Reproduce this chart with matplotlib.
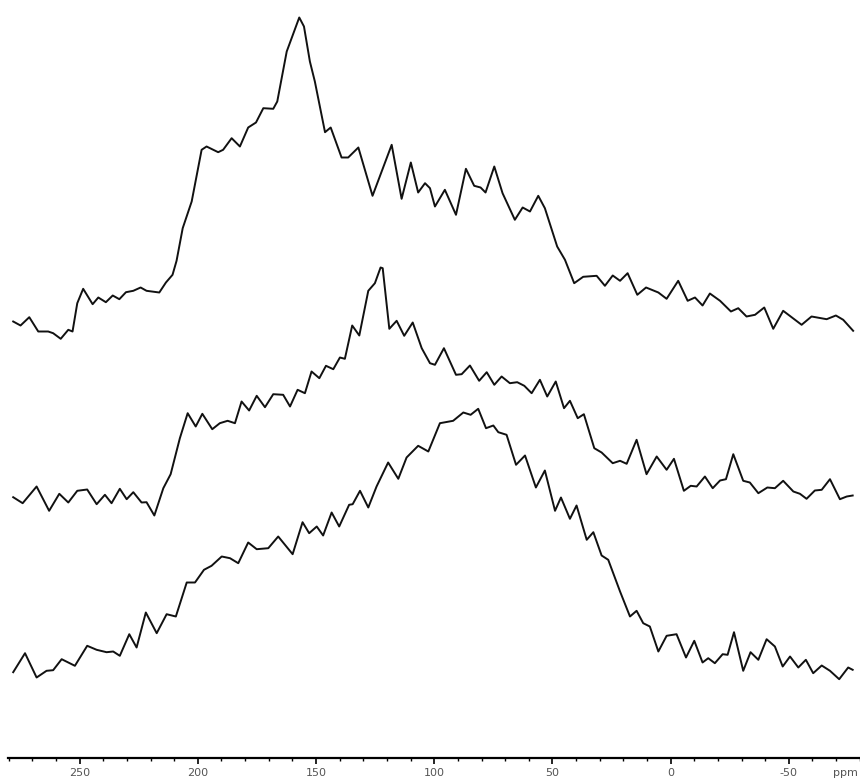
import matplotlib
matplotlib.use('Agg')
import matplotlib.pyplot as plt
from matplotlib.ticker import MultipleLocator

# chemical shift (ppm) and intensity
top_ppm = [278.1, 275.0, 271.3, 267.5, 263.3, 261.2, 258.0, 254.8, 253.0, 251.0,
           248.5, 244.5, 242.1, 238.9, 236.0, 233.2, 230.4, 227.3, 224.2, 221.7,
           216.3, 213.5, 210.7, 209.0, 206.4, 202.6, 198.4, 196.3, 191.4, 189.3,
           185.7, 182.2, 178.7, 175.4, 172.3, 168.1, 166.4, 162.4, 157.1, 155.1,
           152.6, 150.5, 146.2, 143.8, 139.2, 136.4, 132.1, 126.1, 118.0, 113.8,
           109.9, 106.8, 103.9, 101.8, 99.7, 95.5, 90.8, 86.6, 83.1, 80.4,
           78.3, 74.6, 71.1, 65.9, 62.6, 59.5, 56.0, 53.2, 48.0, 44.7,
           40.8, 37.0, 31.3, 27.8, 24.5, 21.4, 18.2, 14.1, 10.4, 5.2,
           1.7, -3.2, -7.2, -10.3, -13.5, -16.6, -20.9, -25.5, -28.6, -32.1,
           -35.7, -39.6, -43.4, -47.6, -55.4, -59.6, -66.0, -69.9, -73.0, -77.2]
top_int = [10, 6, 14.3, 0, 0, -1.7, -7.3, 1.7, 0, 28.3,
           42.7, 27.3, 34, 29.3, 36, 32.3, 39.3, 40.7, 44, 40.7,
           39, 49, 56.7, 70.7, 103.3, 130, 181.7, 185, 179.3, 181.7,
           193.3, 185, 204, 209, 223.3, 222.7, 230, 280, 314, 305,
           270, 250, 199.3, 204, 174, 174, 184, 135.7, 186.7, 132.7,
           169, 139, 148.3, 143.3, 125, 141.7, 116.7, 162.7, 145.7, 144,
           139, 165, 138.3, 111.7, 124, 120, 135.7, 123.3, 85, 71.7,
           48.3, 54.7, 55.7, 45.7, 56, 50.7, 58.3, 36.7, 44, 39,
           32.7, 50.7, 30.7, 34, 26, 38, 30.7, 20, 23.3, 15,
           16.7, 24, 2.7, 20.7, 6.7, 15, 12.3, 16, 11.7, 0.7]

mid_ppm = [278.1, 274.1, 268.2, 262.9, 258.6, 254.8, 251.0, 246.8, 242.8, 239.3,
           236.5, 233.0, 230.1, 227.3, 223.8, 221.7, 218.4, 214.6, 211.5, 207.6,
           204.3, 200.9, 198.1, 193.9, 190.7, 187.4, 184.3, 181.5, 178.3, 175.1,
           171.6, 168.1, 163.9, 161.0, 157.8, 154.7, 151.9, 148.6, 145.8, 142.7,
           139.9, 137.8, 134.7, 131.7, 127.9, 125.1, 122.7, 121.8, 119.0, 115.9,
           112.7, 109.1, 105.3, 101.8, 99.7, 95.9, 90.8, 88.4, 84.9, 81.0,
           77.8, 74.6, 71.5, 68.0, 64.9, 61.9, 58.8, 55.3, 52.2, 48.6,
           45.1, 42.6, 39.3, 36.7, 32.3, 29.2, 24.5, 21.4, 18.6, 14.4,
           10.2, 5.9, 1.7, -1.4, -5.6, -8.5, -11.0, -14.5, -17.8, -20.9,
           -23.4, -26.5, -30.7, -33.5, -37.1, -40.9, -44.1, -47.6, -51.9, -54.7,
           -57.5, -61.0, -63.9, -67.4, -71.6, -74.5, -77.0]
mid_int = [4.3, -1.7, 15, -9.3, 7.7, -1, 10.7, 12, -2.7, 6.7,
           -1.7, 12.7, 2.3, 9.3, -1, -0.7, -14, 13.3, 27.3, 63.3,
           88.3, 75, 87.7, 72.3, 78.3, 80.7, 78.3, 100, 91, 105.7,
           94.3, 107.3, 106.7, 95, 111.7, 108.3, 130, 123.3, 135.7, 132.3,
           144, 142.7, 176, 166, 210.7, 218.3, 234, 233.3, 172.7, 180.7,
           165.7, 179, 153.3, 138.3, 136.7, 153.3, 126.7, 127.3, 136, 120.7,
           129.3, 116.7, 125, 118.3, 119.3, 115.7, 108.3, 121.7, 105, 120,
           93.3, 100.7, 83.3, 87.3, 53.3, 49, 38.3, 40.7, 37.7, 61.7,
           27.3, 45, 31.7, 42.7, 10.7, 15.7, 15, 25, 13.3, 21,
           22.3, 47.3, 20.7, 19, 8.3, 14, 13.3, 20.7, 10, 7.7,
           2.7, 11, 11.7, 22.3, 2.3, 5, 6]

bot_ppm = [278.1, 273.1, 268.2, 264.0, 261.2, 257.6, 252.0, 246.8, 242.8, 238.6,
           235.8, 233.0, 229.0, 225.9, 222.0, 217.4, 213.2, 209.3, 204.7, 201.2,
           197.4, 194.2, 189.9, 186.4, 182.9, 178.7, 175.1, 170.2, 166.0, 159.9,
           155.7, 152.9, 149.7, 147.0, 143.4, 140.2, 136.0, 134.5, 131.4, 127.9,
           124.4, 119.5, 115.2, 111.7, 106.8, 102.5, 97.6, 92.0, 87.7, 84.6,
           81.4, 78.1, 75.0, 72.9, 69.4, 65.4, 61.6, 57.0, 53.2, 48.9,
           46.4, 42.6, 39.8, 35.5, 32.7, 29.2, 26.4, 21.4, 17.2, 14.4,
           11.6, 8.8, 5.2, 1.7, -2.5, -6.5, -10.0, -13.5, -15.9, -18.7,
           -22.0, -24.1, -26.8, -30.7, -33.8, -37.1, -40.6, -44.1, -47.4, -50.5,
           -54.0, -57.2, -60.3, -63.9, -67.4, -71.3, -75.1, -77.0]
bot_int = [-0.7, 18.3, -6, 0.7, 1.3, 12.3, 5.7, 25.7, 21.7, 19.3,
           20, 15.7, 37.3, 24, 59, 38.3, 57.3, 55, 89, 89,
           101.7, 105.7, 115, 113.3, 108.3, 129, 122.3, 123.3, 135, 117.3,
           149.3, 138.3, 145, 136, 159, 145, 166.7, 167.3, 180.7, 164,
           185, 209, 192.7, 214, 225.7, 220, 248.3, 250.7, 259, 256.7,
           262.7, 243.3, 246, 239.3, 236.7, 206.7, 216, 184, 201, 160.7,
           174, 152.7, 166, 131.7, 139.3, 116, 111.7, 80, 55, 60.7,
           48.3, 45, 20, 35.7, 37.3, 14, 30.7, 9, 13.3, 8.3,
           17.3, 16.7, 39.3, 0.7, 19.3, 11.7, 32.3, 25, 5, 15,
           4, 11.7, -1.7, 6, 0.7, -7.7, 4, 1.7]

offsets = [426, 256, 86]
spectra = [(top_ppm, top_int), (mid_ppm, mid_int), (bot_ppm, bot_int)]

fig = plt.figure(figsize=(8.6, 7.8), dpi=100)
ax = fig.add_axes([8 / 860, 22.5 / 780, 852 / 860, 757.5 / 780])

for (ppm, inten), off in zip(spectra, offsets):
    ax.plot(ppm, [v + off for v in inten], color='#111111', lw=1.4,
            solid_joinstyle='round')

ax.set_xlim(280.3, -80.1)
ax.set_ylim(0, 757.5)

for side in ['left', 'top', 'right']:
    ax.spines[side].set_visible(False)
ax.spines['bottom'].set_linewidth(1.6)
ax.set_yticks([])
ax.xaxis.set_major_locator(MultipleLocator(50))
ax.xaxis.set_minor_locator(MultipleLocator(10))
ax.tick_params(axis='x', which='major', direction='out', length=4.2, width=1.2,
               labelsize=8, labelcolor='#555555', pad=3)
ax.tick_params(axis='x', which='minor', direction='out', length=2.0, width=1.0)
ax.set_xticks([250, 200, 150, 100, 50, 0, -50])
ax.set_xticklabels(['250', '200', '150', '100', '50', '0', '-50'])

fig.text(858 / 860, 4 / 780, 'ppm', ha='right', va='baseline',
         fontsize=8, color='#555555')

fig.savefig('out.png', dpi=100)
